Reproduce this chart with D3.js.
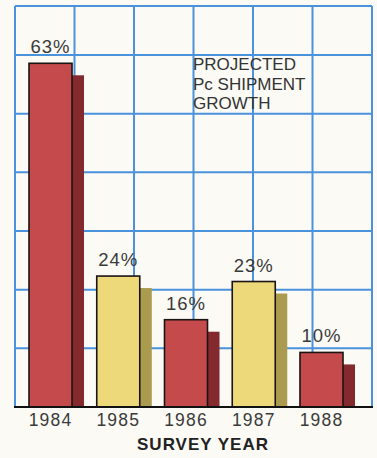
<!DOCTYPE html>
<html>
<head>
<meta charset="utf-8">
<script src="https://cdn.jsdelivr.net/npm/d3@7"></script>
<style>
  body { margin: 0; background: #fbfaf5; }
  svg { display: block; }
</style>
</head>
<body>
<svg id="chart"></svg>
<script>
var years = ["1984", "1985", "1986", "1987", "1988"];
var growth = [63, 24, 16, 23, 10];
var barKind = ["red", "yellow", "red", "yellow", "red"];
var titleLines = ["PROJECTED", "Pc SHIPMENT", "GROWTH"];
var gridCols = [0, 1, 2, 3, 4, 5, 6];
var gridRows = [0, 1, 2, 3, 4, 5, 6];

var width = 377, height = 458;
var baseY = 407, topY = 6, leftX = 15, rightX = 372;

var fill = {red: "#c44a4c", yellow: "#eed97a"};
var shade = {red: "#84292e", yellow: "#aa9b4e"};

var svg = d3.select("#chart")
    .attr("width", width)
    .attr("height", height);

var y = d3.scaleLinear().domain([0, 73.5]).range([baseY, topY]);
var gridX = d3.scaleLinear().domain([0, 6]).range([leftX, rightX]);
var gridY = d3.scaleLinear().domain([0, 6]).range([baseY, 55]);

var x = d3.scaleBand()
    .domain(years)
    .range([29, 343])
    .paddingInner(0.365)
    .paddingOuter(0);

// grid
var grid = svg.append("g").attr("stroke", "#4a92dc").attr("stroke-width", 2);
grid.selectAll(".v").data(gridCols).enter().append("line")
    .attr("x1", function (d) { return gridX(d); })
    .attr("x2", function (d) { return gridX(d); })
    .attr("y1", topY).attr("y2", baseY);
grid.selectAll(".h").data(gridRows.slice(1)).enter().append("line")
    .attr("x1", leftX).attr("x2", rightX)
    .attr("y1", function (d) { return gridY(d); })
    .attr("y2", function (d) { return gridY(d); });
grid.append("line")
    .attr("x1", leftX).attr("x2", rightX)
    .attr("y1", topY).attr("y2", topY);

// title
svg.append("text")
    .attr("x", 193).attr("y", 70)
    .attr("font-family", "Liberation Sans, Arial, sans-serif")
    .attr("font-size", "17px")
    .attr("fill", "#333")
    .selectAll("tspan").data(titleLines).enter().append("tspan")
    .attr("x", 193)
    .attr("dy", function (d, i) { return i === 0 ? 0 : 19.5; })
    .text(function (d) { return d; });

var data = years.map(function (d, i) { return {year: d, value: growth[i], kind: barKind[i]}; });
var bw = x.bandwidth();
var shadowW = 12;

// shadows
svg.selectAll(".shadow").data(data).enter().append("rect")
    .attr("class", "shadow")
    .attr("x", function (d) { return x(d.year) + bw; })
    .attr("y", function (d) { return y(d.value) + 12; })
    .attr("width", shadowW)
    .attr("height", function (d) { return baseY - y(d.value) - 12; })
    .attr("fill", function (d) { return shade[d.kind]; });

// bars
svg.selectAll(".bar").data(data).enter().append("rect")
    .attr("class", "bar")
    .attr("x", function (d) { return x(d.year); })
    .attr("y", function (d) { return y(d.value); })
    .attr("width", bw)
    .attr("height", function (d) { return baseY - y(d.value); })
    .attr("fill", function (d) { return fill[d.kind]; })
    .attr("stroke", "#1a1414")
    .attr("stroke-width", 1.6);

// value labels
svg.selectAll(".val").data(data).enter().append("text")
    .attr("x", function (d) { return x(d.year) + bw / 2; })
    .attr("y", function (d) { return y(d.value) - 10; })
    .attr("text-anchor", "middle")
    .attr("font-family", "Liberation Sans, Arial, sans-serif")
    .attr("font-size", "18.5px")
    .attr("letter-spacing", "1px")
    .attr("fill", "#3a3a3a")
    .text(function (d) { return d.value + "%"; });

// baseline axis
svg.append("g")
    .attr("transform", "translate(0," + baseY + ")")
    .call(d3.axisBottom(x).tickSize(0).tickPadding(7).offset(0))
    .call(function (g) {
        g.select(".domain").remove();
        g.selectAll("text")
            .attr("font-family", "Liberation Sans, Arial, sans-serif")
            .attr("font-size", "17.5px")
            .attr("letter-spacing", "1.2px")
            .attr("fill", "#3a3a3a")
            .attr("dy", "0.71em");
    });
svg.append("line")
    .attr("x1", leftX - 1).attr("x2", rightX + 1)
    .attr("y1", baseY).attr("y2", baseY)
    .attr("stroke", "#111").attr("stroke-width", 2.2);

svg.append("text")
    .attr("x", 203).attr("y", 450)
    .attr("text-anchor", "middle")
    .attr("font-family", "Liberation Sans, Arial, sans-serif")
    .attr("font-weight", "bold")
    .attr("font-size", "17px")
    .attr("letter-spacing", "1px")
    .attr("fill", "#222")
    .text("SURVEY YEAR");
</script>
</body>
</html>
